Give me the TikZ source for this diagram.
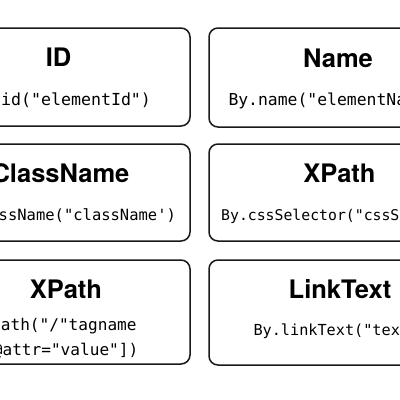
\documentclass[tikz,border=0pt]{standalone}
\usepackage{fontspec}
\setsansfont{TeX Gyre Heros}
\setmonofont{DejaVu Sans Mono}
\begin{document}
\begin{tikzpicture}[x=1pt,y=-1pt,inner sep=0pt,outer sep=0pt,
locbox/.style={draw=black!90,line width=1.5pt,rounded corners=9pt,fill=white,rectangle,minimum width=260pt},
title/.style={font=\sffamily\bfseries\fontsize{25.5}{30}\selectfont,anchor=base},
code/.style={font=\ttfamily\fontsize{#1}{20}\selectfont}]
\useasboundingbox (0,0) rectangle (400,400);
\clip (0,0) rectangle (400,400);
\fill[white] (0,0) rectangle (400,400);
% row 1
\draw (60,77) node[locbox,minimum height=98pt] (id) {};
\draw (339,77.5) node[locbox,minimum height=99pt] (name) {};
\draw (58.5,66) node[title] (idT) {ID};
\draw (151,105.5) node[code=16.6,anchor=base east] (idC) {By.id("elementId")};
\draw (338,67) node[title] (nameT) {Name};
\draw (228.5,105.5) node[code=16.4,anchor=base west] (nameC) {By.name("elementName")};
% row 2
\draw (60,192.5) node[locbox,minimum height=97pt] (class) {};
\draw (339,192.5) node[locbox,minimum height=97pt] (css) {};
\draw (60.5,182) node[title] (classT) {ClassName};
\draw (176,220) node[code=15.5,anchor=base east] (classC) {By.className("className')};
\draw (339.5,182) node[title] (cssT) {XPath};
\draw (221.2,220) node[code=14.8,anchor=base west] (cssC) {By.cssSelector("cssSelector")};
% row 3
\draw (60,312) node[locbox,minimum height=104pt] (xpath) {};
\draw (339,312.5) node[locbox,minimum height=105pt] (link) {};
\draw (66,298) node[title] (xpathT) {XPath};
\draw (136.6,330) node[code=16.1,anchor=base east] (xpathC) {By.xpath("/"tagname};
\draw (138.3,355) node[code=16.1,anchor=base east] (xpathD) {[@attr="value"])};
\draw (340,298) node[title] (linkT) {LinkText};
\draw (253.5,335) node[code=15.2,anchor=base west] (linkC) {By.linkText("text")};
\end{tikzpicture}
\end{document}
